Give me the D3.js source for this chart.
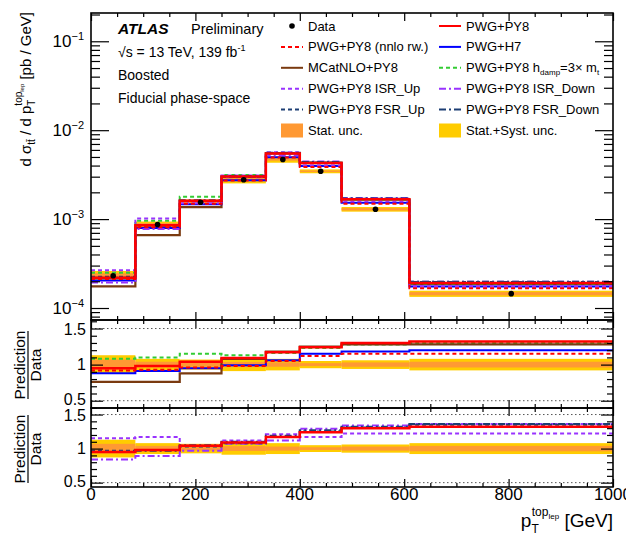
<!DOCTYPE html>
<html>
<head>
<meta charset="UTF-8">
<script src="https://cdn.jsdelivr.net/npm/d3@7"></script>
<style>
  body { margin: 0; padding: 0; background: white; }
  svg { display: block; font-family: "Liberation Sans", Arial, Helvetica, sans-serif; }
</style>
</head>
<body>
<div id="chart"></div>
<script>
// bin edges in GeV
const edges = [0, 85, 170, 250, 335, 400, 480, 610, 1000];
// measured cross-section [pb/GeV]
const dataVals = [2.31e-4, 8.7e-4, 1.55e-3, 2.77e-3, 4.68e-3, 3.45e-3, 1.29e-3, 1.45e-4];
// relative uncertainties
const statUnc = [0.07, 0.04, 0.03, 0.035, 0.03, 0.02, 0.03, 0.04];
const totUnc = [0.13, 0.08, 0.07, 0.09, 0.08, 0.05, 0.06, 0.08];

// prediction / data
const rPY8 = [0.95, 0.98, 1.04, 1.09, 1.17, 1.24, 1.30, 1.32];
const rNNLO = [0.92, 0.93, 0.96, 0.98, 1.05, 1.12, 1.15, 1.15];
const rMC = [0.76, 0.76, 0.88, 1.08, 1.18, 1.25, 1.28, 1.28];
const rH7 = [0.88, 0.91, 0.95, 0.99, 1.06, 1.15, 1.18, 1.20];
const rHdamp = [1.08, 1.10, 1.15, 1.13, 1.16, 1.23, 1.28, 1.30];
const rIsrUp = [1.15, 1.17, 1.04, 1.12, 1.21, 1.17, 1.22, 1.22];
const rIsrDn = [0.84, 0.89, 0.97, 1.07, 1.12, 1.29, 1.34, 1.36];
const rFsrUp = [0.97, 0.98, 1.03, 1.08, 1.17, 1.25, 1.31, 1.35];
const rFsrDn = [0.95, 0.97, 1.05, 1.10, 1.19, 1.27, 1.32, 1.36];

const xTicks = [0, 200, 400, 600, 800, 1000];

const W = 626, H = 538;
const L = 91, R = 613;
const mainTop = 13, mainBot = 320;
const r1Top = 320, r1Bot = 408;
const r2Top = 408, r2Bot = 487;

const RED = "#ff0000", BROWN = "#7a3a10", BLUE = "#0000ff", GREEN = "#33cc33",
      VIOLET = "#9933ff", NAVY = "#1d3e74", STAT = "#ff9933", TOT = "#ffcc00";
const DASH = "4,3", DASHDOT = "7,3,2,3";

const models = {
  mc:    { r: rMC,    color: BROWN,  dash: null,    w: 2.2 },
  h7:    { r: rH7,    color: BLUE,   dash: null,    w: 2 },
  hdamp: { r: rHdamp, color: GREEN,  dash: DASH,    w: 2 },
  isrUp: { r: rIsrUp, color: VIOLET, dash: DASH,    w: 2 },
  isrDn: { r: rIsrDn, color: VIOLET, dash: DASHDOT, w: 2 },
  fsrUp: { r: rFsrUp, color: NAVY,   dash: DASH,    w: 2 },
  fsrDn: { r: rFsrDn, color: NAVY,   dash: DASHDOT, w: 2 },
  py8:   { r: rPY8,   color: RED,    dash: null,    w: 2.5 },
  nnlo:  { r: rNNLO,  color: RED,    dash: DASH,    w: 2 }
};
const mainOrder = ["mc", "h7", "hdamp", "isrUp", "isrDn", "fsrUp", "fsrDn", "py8", "nnlo"];
const r1Order = ["hdamp", "h7", "mc", "py8", "nnlo"];
const r2Order = ["isrUp", "isrDn", "fsrUp", "fsrDn", "py8"];

const svg = d3.select("#chart").append("svg").attr("width", W).attr("height", H);

const x = d3.scaleLinear().domain([0, 1000]).range([L, R]);
const yMain = d3.scaleLog().domain([7.33e-5, 0.208]).range([mainBot, mainTop]);
const yR1 = d3.scaleLinear().domain([0.399, 1.618]).range([r1Bot, r1Top]);
const yR2 = d3.scaleLinear().domain([0.436, 1.596]).range([r2Bot, r2Top]);

function clip(id, y0, y1) {
  svg.append("clipPath").attr("id", id).append("rect")
    .attr("x", L).attr("y", y0).attr("width", R - L).attr("height", y1 - y0);
}
clip("cMain", mainTop, mainBot);
clip("cR1", r1Top, r1Bot);
clip("cR2", r2Top, r2Bot);

function stepPts(vals) {
  return edges.map((e, i) => [e, vals[Math.min(i, vals.length - 1)]]);
}

function drawLines(g, y, order, valFn) {
  const line = d3.line().x(d => x(d[0])).y(d => y(d[1])).curve(d3.curveStepAfter);
  order.forEach(k => {
    const m = models[k];
    g.append("path")
      .attr("d", line(stepPts(valFn(m))))
      .attr("fill", "none")
      .attr("stroke", m.color)
      .attr("stroke-width", m.w)
      .attr("stroke-dasharray", m.dash);
  });
}

function drawBands(g, y, center) {
  [[totUnc, TOT], [statUnc, STAT]].forEach(([unc, col]) => {
    g.selectAll(null).data(dataVals).enter().append("rect")
      .attr("x", (d, i) => x(edges[i]))
      .attr("width", (d, i) => x(edges[i + 1]) - x(edges[i]))
      .attr("y", (d, i) => y(center(d) * (1 + unc[i])))
      .attr("height", (d, i) => y(center(d) * (1 - unc[i])) - y(center(d) * (1 + unc[i])))
      .attr("fill", col);
  });
}

function xAxes(top, bot, labels) {
  const minor = d3.range(0, 1001, 50).filter(v => v % 200 !== 0);
  const g = svg.append("g");
  [[d3.axisBottom, bot], [d3.axisTop, top]].forEach(([ax, pos]) => {
    g.append("g").attr("transform", `translate(0,${pos})`)
      .call(ax(x).tickValues(xTicks).tickSize(-8).tickFormat(""))
      .call(s => s.select(".domain").remove());
    g.append("g").attr("transform", `translate(0,${pos})`)
      .call(ax(x).tickValues(minor).tickSize(-4).tickFormat(""))
      .call(s => s.select(".domain").remove());
  });
  g.selectAll("line").attr("stroke", "#000").attr("stroke-width", 1.2);
  if (labels) {
    g.selectAll(null).data(xTicks).enter().append("text")
      .attr("x", d => x(d)).attr("y", bot + 13)
      .attr("text-anchor", "middle").attr("font-size", 17).text(d => d);
  }
}

function yTicks(y, major, minor, majLen, minLen) {
  const g = svg.append("g");
  [[d3.axisRight, L], [d3.axisLeft, R]].forEach(([ax, pos]) => {
    g.append("g").attr("transform", `translate(${pos},0)`)
      .call(ax(y).tickValues(major).tickSize(majLen).tickFormat(""))
      .call(s => s.select(".domain").remove());
    g.append("g").attr("transform", `translate(${pos},0)`)
      .call(ax(y).tickValues(minor).tickSize(minLen).tickFormat(""))
      .call(s => s.select(".domain").remove());
  });
  g.selectAll("line").attr("stroke", "#000").attr("stroke-width", 1.2);
}

// ---------- main panel ----------
const gMain = svg.append("g").attr("clip-path", "url(#cMain)");
drawBands(gMain, yMain, d => d);
drawLines(gMain, yMain, mainOrder, m => m.r.map((v, i) => v * dataVals[i]));
gMain.selectAll("circle").data(dataVals).enter().append("circle")
  .attr("cx", (d, i) => x((edges[i] + edges[i + 1]) / 2))
  .attr("cy", d => yMain(d)).attr("r", 2.8).attr("fill", "#000");

const decades = [1e-4, 1e-3, 1e-2, 1e-1];
const logMinor = [];
[1e-5, 1e-4, 1e-3, 1e-2, 1e-1].forEach(dc => {
  for (let k = 2; k <= 9; k++) {
    const v = dc * k;
    if (v > 7.33e-5 && v < 0.208) logMinor.push(v);
  }
});
yTicks(yMain, decades, logMinor, 18, 9);
xAxes(mainTop, mainBot, false);

const decLab = svg.append("g");
decades.forEach((d, i) => {
  const t = decLab.append("text")
    .attr("x", 84).attr("y", yMain(d) + 6)
    .attr("text-anchor", "end").attr("font-size", 17);
  t.append("tspan").text("10");
  t.append("tspan").attr("font-size", 11).attr("dy", -7).text("\u2212" + (4 - i));
});

// ---------- ratio panels ----------
function ratioPanel(y, clipId, order, cy) {
  const g = svg.append("g").attr("clip-path", `url(#${clipId})`);
  [0.5, 1.5].forEach(v => {
    g.append("line").attr("x1", L).attr("x2", R).attr("y1", y(v)).attr("y2", y(v))
      .attr("stroke", "#555").attr("stroke-width", 1).attr("stroke-dasharray", "1.5,2.5");
  });
  drawBands(g, y, () => 1);
  drawLines(g, y, order, m => m.r);
  const minor = d3.range(5, 17).map(v => v / 10).filter(v => v !== 1 && v !== 0.5 && v !== 1.5);
  yTicks(y, [0.5, 1, 1.5], minor, 12, 6);
  [[0.5, "0.5", 4], [1, "1", 5.5], [1.5, "1.5", 6.5]].forEach(([v, s, dy]) => {
    svg.append("text").attr("x", 86).attr("y", y(v) + dy)
      .attr("text-anchor", "end").attr("font-size", 16).text(s);
  });
  const ty = svg.append("g").attr("transform", `translate(0,${cy})`);
  ty.append("text").attr("transform", "translate(25,0) rotate(-90)")
    .attr("text-anchor", "middle").attr("font-size", 15.5).text("Prediction");
  ty.append("line").attr("x1", 28).attr("x2", 28).attr("y1", -34).attr("y2", 34)
    .attr("stroke", "#000").attr("stroke-width", 1.2);
  ty.append("text").attr("transform", "translate(41,0) rotate(-90)")
    .attr("text-anchor", "middle").attr("font-size", 15.5).text("Data");
}
ratioPanel(yR1, "cR1", r1Order, 365);
xAxes(r1Top, r1Bot, false);
ratioPanel(yR2, "cR2", r2Order, 449);
xAxes(r2Top, r2Bot, true);

// frames
[[mainTop, mainBot], [r1Top, r1Bot], [r2Top, r2Bot]].forEach(([t, b]) => {
  svg.append("rect").attr("x", L).attr("y", t).attr("width", R - L).attr("height", b - t)
    .attr("fill", "none").attr("stroke", "#000").attr("stroke-width", 1.6);
});

// ---------- axis titles ----------
const yt = svg.append("text").attr("transform", "translate(31,12) rotate(-90)")
  .attr("text-anchor", "end").attr("font-size", 15);
yt.append("tspan").text("d \u03c3");
yt.append("tspan").attr("font-size", 10).attr("dy", 4).text("t\u0074\u0304");
yt.append("tspan").attr("dy", -4).text(" / d p");
yt.append("tspan").attr("font-size", 10).attr("dy", 4).text("T");
yt.append("tspan").attr("font-size", 10).attr("dx", -6).attr("dy", -13).text("top");
yt.append("tspan").attr("font-size", 6).attr("dy", 2).text("lep");
yt.append("tspan").attr("dy", 7).text(" [pb / GeV]");

const xt = svg.append("text").attr("x", 613).attr("y", 527)
  .attr("text-anchor", "end").attr("font-size", 19);
xt.append("tspan").text("p");
xt.append("tspan").attr("font-size", 12).attr("dy", 6).text("T");
xt.append("tspan").attr("font-size", 12).attr("dx", -7).attr("dy", -17).text("top");
xt.append("tspan").attr("font-size", 8).attr("dy", 3).text("lep");
xt.append("tspan").attr("dy", 8).text(" [GeV]");

// ---------- ATLAS label ----------
const lab = svg.append("g").attr("font-size", 14);
lab.append("text").attr("x", 118).attr("y", 34).attr("font-weight", "bold")
  .attr("font-style", "italic").attr("font-size", 15.5).text("ATLAS");
lab.append("text").attr("x", 191).attr("y", 34).attr("font-size", 14.5).text("Preliminary");
const rs = lab.append("text").attr("x", 118).attr("y", 57);
rs.append("tspan").text("\u221as = 13 TeV, 139 fb");
rs.append("tspan").attr("font-size", 9).attr("dy", -6).text("-1");
lab.append("text").attr("x", 118).attr("y", 80).text("Boosted");
lab.append("text").attr("x", 118).attr("y", 103).text("Fiducial phase-space");

// ---------- legend ----------
const legLeft = [
  { key: "data", label: "Data" },
  { key: "nnlo", label: "PWG+PY8 (nnlo rw.)" },
  { key: "mc", label: "MCatNLO+PY8" },
  { key: "isrUp", label: "PWG+PY8 ISR_Up" },
  { key: "fsrUp", label: "PWG+PY8 FSR_Up" },
  { key: "stat", label: "Stat. unc." }
];
const legRight = [
  { key: "py8", label: "PWG+PY8" },
  { key: "h7", label: "PWG+H7" },
  { key: "hdamp", label: "PWG+PY8 h" },
  { key: "isrDn", label: "PWG+PY8 ISR_Down" },
  { key: "fsrDn", label: "PWG+PY8 FSR_Down" },
  { key: "tot", label: "Stat.+Syst. unc." }
];
function legend(items, x0) {
  items.forEach((it, i) => {
    const cy = 26 + i * 20.9;
    const g = svg.append("g");
    if (it.key === "data") {
      g.append("circle").attr("cx", x0 + 11).attr("cy", cy).attr("r", 2.8).attr("fill", "#000");
    } else if (it.key === "stat" || it.key === "tot") {
      g.append("rect").attr("x", x0).attr("y", cy - 7).attr("width", 22).attr("height", 14)
        .attr("fill", it.key === "stat" ? STAT : TOT);
    } else {
      const m = models[it.key];
      g.append("line").attr("x1", x0).attr("x2", x0 + 22).attr("y1", cy).attr("y2", cy)
        .attr("stroke", m.color).attr("stroke-width", 2).attr("stroke-dasharray", m.dash);
    }
    const t = g.append("text").attr("x", x0 + 27).attr("y", cy + 4.5).attr("font-size", 13).text(it.label);
    if (it.key === "hdamp") {
      t.append("tspan").attr("font-size", 8).attr("dy", 3).text("damp");
      t.append("tspan").attr("dy", -3).text("=3\u00d7 m");
      t.append("tspan").attr("font-size", 8).attr("dy", 3).text("t");
    }
  });
}
legend(legLeft, 281);
legend(legRight, 439);
</script>
</body>
</html>
